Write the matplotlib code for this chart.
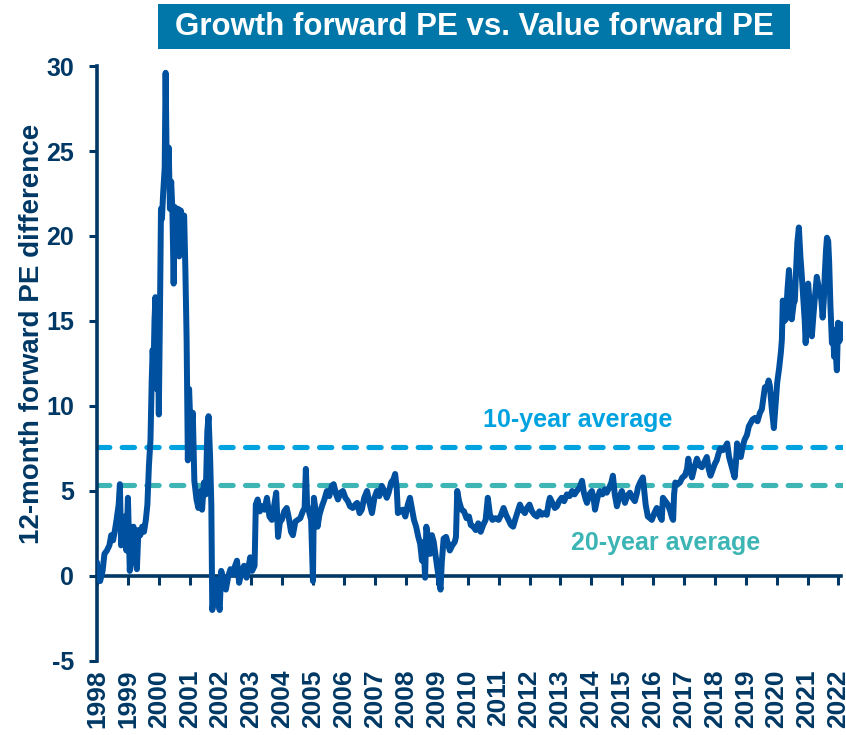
import matplotlib.pyplot as plt
from matplotlib.patches import Rectangle

# Growth forward PE minus Value forward PE (decimal year, value)
years = [
    1998.00, 1998.04, 1998.10, 1998.18, 1998.24, 1998.32, 1998.40, 1998.46, 1998.52, 1998.58,
    1998.64, 1998.70, 1998.74, 1998.78, 1998.84, 1998.90, 1998.95,
    1999.00, 1999.06, 1999.12, 1999.18, 1999.24, 1999.29, 1999.34, 1999.40, 1999.46, 1999.52,
    1999.58, 1999.63, 1999.68, 1999.73, 1999.77, 1999.80, 1999.83, 1999.86, 1999.89, 1999.93, 1999.96,
    2000.00, 2000.04, 2000.07, 2000.10, 2000.14, 2000.19, 2000.22, 2000.25, 2000.28, 2000.32,
    2000.36, 2000.40, 2000.44, 2000.48, 2000.52, 2000.57, 2000.62, 2000.66, 2000.71, 2000.76,
    2000.82, 2000.86, 2000.90, 2000.94, 2000.98,
    2001.03, 2001.10, 2001.15, 2001.22, 2001.28, 2001.34, 2001.40, 2001.46, 2001.52, 2001.57,
    2001.61, 2001.66, 2001.70, 2001.73, 2001.80, 2001.86, 2001.92, 2001.97,
    2002.02, 2002.10, 2002.17, 2002.25, 2002.32, 2002.40, 2002.47, 2002.53, 2002.60, 2002.68,
    2002.76, 2002.84, 2002.90, 2002.96,
    2003.02, 2003.10, 2003.14, 2003.20, 2003.27, 2003.34, 2003.42, 2003.50, 2003.58, 2003.66,
    2003.74, 2003.80, 2003.86, 2003.92, 2003.98,
    2004.06, 2004.14, 2004.20, 2004.28, 2004.34, 2004.42, 2004.50, 2004.58, 2004.66, 2004.72,
    2004.76, 2004.80, 2004.86, 2004.93, 2004.99,
    2005.02, 2005.08, 2005.14, 2005.20, 2005.28, 2005.36, 2005.44, 2005.52, 2005.60, 2005.66,
    2005.74, 2005.80, 2005.88, 2005.96,
    2006.04, 2006.12, 2006.19, 2006.28, 2006.36, 2006.42, 2006.50, 2006.57, 2006.65, 2006.74,
    2006.82, 2006.90, 2006.98,
    2007.06, 2007.14, 2007.22, 2007.30, 2007.38, 2007.44, 2007.52, 2007.60, 2007.65, 2007.70,
    2007.74, 2007.82, 2007.90, 2007.98,
    2008.06, 2008.13, 2008.20, 2008.26, 2008.33, 2008.40, 2008.46, 2008.52, 2008.57, 2008.62,
    2008.66, 2008.72, 2008.78, 2008.84, 2008.90, 2008.96,
    2009.02, 2009.08, 2009.12, 2009.16, 2009.22, 2009.30, 2009.36, 2009.42, 2009.50, 2009.58,
    2009.62, 2009.66, 2009.72, 2009.80, 2009.88, 2009.96,
    2010.04, 2010.10, 2010.18, 2010.26, 2010.34, 2010.42, 2010.50, 2010.58, 2010.65, 2010.72,
    2010.80, 2010.90,
    2011.00, 2011.08, 2011.16, 2011.24, 2011.32, 2011.40, 2011.47, 2011.55, 2011.62, 2011.69,
    2011.76, 2011.85, 2011.92,
    2012.00, 2012.08, 2012.16, 2012.24, 2012.32, 2012.40, 2012.48, 2012.56, 2012.62, 2012.66,
    2012.74, 2012.82, 2012.89, 2012.96,
    2013.04, 2013.12, 2013.21, 2013.30, 2013.38, 2013.46, 2013.53, 2013.62, 2013.70, 2013.76,
    2013.82, 2013.86, 2013.94,
    2014.02, 2014.08, 2014.12, 2014.20, 2014.28, 2014.36, 2014.44, 2014.50, 2014.58, 2014.65,
    2014.70, 2014.76, 2014.83, 2014.90, 2014.99,
    2015.05, 2015.09, 2015.16, 2015.25, 2015.33, 2015.41, 2015.48, 2015.51, 2015.58, 2015.67,
    2015.72, 2015.76, 2015.83, 2015.90, 2015.96,
    2016.04, 2016.12, 2016.20, 2016.28, 2016.32, 2016.40, 2016.48, 2016.56, 2016.62, 2016.65,
    2016.68, 2016.72, 2016.80, 2016.87, 2016.95,
    2017.03, 2017.10, 2017.14, 2017.20, 2017.26, 2017.34, 2017.42, 2017.50, 2017.58, 2017.66,
    2017.74, 2017.80, 2017.86, 2017.92,
    2018.00, 2018.06, 2018.12, 2018.18, 2018.26, 2018.34, 2018.40, 2018.46, 2018.52, 2018.58,
    2018.64, 2018.68, 2018.72, 2018.78, 2018.84, 2018.90, 2018.96,
    2019.04, 2019.10, 2019.16, 2019.22, 2019.30, 2019.38, 2019.46, 2019.52, 2019.58, 2019.62,
    2019.68, 2019.74, 2019.78, 2019.84, 2019.91, 2019.97,
    2020.02, 2020.08, 2020.14, 2020.17, 2020.20, 2020.25, 2020.30, 2020.35, 2020.40, 2020.45,
    2020.49, 2020.55, 2020.59, 2020.63, 2020.67, 2020.72, 2020.77, 2020.81, 2020.86, 2020.91,
    2020.94, 2020.98,
    2021.02, 2021.08, 2021.14, 2021.19, 2021.24, 2021.30, 2021.36, 2021.40, 2021.45, 2021.49,
    2021.53, 2021.56, 2021.60, 2021.63, 2021.67, 2021.70, 2021.74, 2021.79, 2021.83, 2021.86,
    2021.90, 2021.95, 2021.99,
    2022.03, 2022.07, 2022.10,
]
pe_diff = [
    0.8, -0.2, -0.3, 0.3, 1.3, 1.5, 1.8, 2.4, 2.1, 2.7,
    3.4, 4.2, 5.4, 1.8, 2.6, 3.5, 1.5,
    4.6, 0.3, 2.2, 2.9, 0.9, 0.4, 2.7, 2.4, 2.9, 2.6,
    3.3, 4.2, 6.5, 8.0, 11.5, 13.3, 12.2, 15.0, 16.4, 11.0, 15.5,
    9.5, 16.0, 21.6, 21.0, 22.5, 24.0, 29.6, 25.0, 23.0, 25.2,
    21.6, 23.2, 21.5, 17.2, 21.7, 20.0, 21.6, 18.8, 21.5, 21.0,
    21.2, 18.0, 13.9, 6.8, 11.0,
    8.5, 9.6, 5.6, 4.5, 4.0, 5.0, 3.9, 5.5, 4.8, 8.5,
    9.4, 7.0, 4.2, -2.0, -1.2, -0.2, -1.5, -2.0,
    0.3, -0.3, -0.8, 0.0, 0.4, 0.1, 0.6, 0.9, -0.4, 0.3,
    0.6, -0.1, 0.5, 1.1,
    0.3, 0.6, 4.2, 4.5, 3.8, 4.1, 3.9, 4.6, 3.5, 3.3,
    4.2, 4.9, 2.3, 3.2, 3.3,
    3.8, 4.0, 3.5, 2.6, 2.4, 3.2, 3.3, 3.4, 3.8, 4.0,
    6.3, 4.2, 3.8, 3.3, -0.3,
    4.6, 3.8, 2.9, 3.6, 4.1, 4.5, 5.0, 4.7, 5.3, 5.4,
    4.8, 4.5, 4.9, 5.0,
    4.6, 4.4, 4.1, 4.0, 4.2, 4.3, 3.7, 3.9, 4.6, 5.0,
    4.3, 3.7, 4.6,
    5.0, 4.7, 5.3, 5.0, 4.6, 4.9, 5.5, 5.7, 6.0, 5.2,
    3.7, 3.8, 3.9, 3.5,
    4.2, 4.6, 3.9, 3.3, 2.9, 2.3, 1.9, 0.9, 2.0, -0.1,
    2.9, 2.2, 1.3, 2.4, 2.0, 1.2,
    0.4, -0.3, -0.8, 0.8, 2.2, 2.3, 1.9, 1.5, 1.8, 2.0,
    2.3, 5.0, 4.4, 3.9, 3.8, 3.4,
    3.5, 3.0, 2.9, 2.7, 3.1, 2.6, 3.0, 3.3, 4.6, 3.6,
    3.3, 3.4,
    3.3, 3.6, 4.0, 3.6, 3.3, 3.0, 2.9, 3.4, 3.8, 4.2,
    3.9, 3.7, 4.0,
    4.2, 3.8, 3.6, 3.5, 3.8, 3.6, 3.7, 3.6, 4.3, 4.6,
    4.3, 4.0, 4.1, 4.4,
    4.6, 4.4, 4.8, 4.7, 5.0, 4.8, 5.0, 5.2, 5.6, 4.9,
    4.5, 4.3, 4.8,
    5.0, 4.5, 3.9, 4.6, 5.0, 4.8, 5.1, 4.9, 5.2, 5.5,
    5.9, 4.8, 4.1, 4.6, 5.0,
    4.6, 4.3, 4.7, 4.9, 4.6, 4.4, 4.9, 5.2, 5.5, 5.8,
    4.9, 4.2, 3.5, 3.4, 3.3,
    3.7, 4.0, 3.6, 3.3, 4.6, 4.4, 4.2, 3.8, 3.4, 3.3,
    4.8, 5.5, 5.4, 5.5, 5.8,
    5.9, 6.3, 6.9, 6.2, 5.8, 6.4, 6.9, 6.5, 6.4, 6.7,
    7.0, 6.3, 5.9, 6.2,
    6.6, 6.8, 7.2, 7.5, 7.4, 7.6, 7.8, 7.0, 6.6, 6.2,
    5.8, 6.6, 7.8, 7.2, 7.0, 7.6, 8.0,
    8.3, 8.8, 9.0, 9.2, 9.3, 9.1, 9.6, 9.8, 10.6, 11.1,
    11.0, 11.5, 11.2, 9.9, 8.7, 10.2,
    11.4, 12.2, 13.2, 13.9, 16.2, 15.0, 15.1, 16.8, 18.0, 16.5,
    15.1, 16.0, 16.2, 18.0, 19.6, 20.5, 18.8, 17.8, 16.4, 15.0,
    13.7, 15.5,
    17.2, 15.8, 14.1, 15.3, 16.4, 17.6, 17.0, 16.8, 16.2, 15.2,
    16.3, 17.8, 19.2, 19.9, 19.7, 18.5, 16.0, 13.7, 14.5, 12.9,
    13.5, 12.1, 14.9,
    13.8, 14.1, 14.8,
]

avg_10y = 7.6
avg_20y = 5.35
tick_years = list(range(1998, 2023))

navy = '#003865'
line_blue = '#0050A0'
light_blue = '#00A3E0'
teal = '#3DB5B5'
title_bg = '#0077A8'

plt.rcParams['font.family'] = ['Liberation Sans', 'DejaVu Sans']
plt.rcParams['font.weight'] = 'bold'
plt.rcParams['axes.unicode_minus'] = False

fig = plt.figure(figsize=(8.46, 7.35), dpi=100)
ax = fig.add_axes([0.1147, 0.1007, 0.8818, 0.8095])

ax.plot(years, pe_diff, color=line_blue, linewidth=4.3, solid_joinstyle='round',
        solid_capstyle='round', zorder=3)
ax.axhline(avg_10y, color=light_blue, linewidth=3.7, linestyle=(0, (2.4, 2.4)),
           dash_capstyle='round', zorder=2)
ax.axhline(avg_20y, color=teal, linewidth=3.7, linestyle=(0, (2.4, 2.4)),
           dash_capstyle='round', zorder=2)

ax.text(2010.5, 9.2, '10-year average', color=light_blue, fontsize=18,
        fontweight='bold', va='center', ha='left')
ax.text(2013.35, 1.95, '20-year average', color=teal, fontsize=18,
        fontweight='bold', va='center', ha='left')

ax.set_xlim(1998, 2022.15)
ax.set_ylim(-5, 30)
ax.set_yticks(range(-5, 31, 5))

for side in ['top', 'right']:
    ax.spines[side].set_visible(False)
ax.spines['left'].set_linewidth(2.6)
ax.spines['left'].set_color(navy)
ax.spines['bottom'].set_position(('data', 0))
ax.spines['bottom'].set_bounds(1998, 2022.08)
ax.spines['bottom'].set_linewidth(2.6)
ax.spines['bottom'].set_color(navy)

ax.set_xticks(tick_years)
ax.tick_params(axis='x', direction='out', length=6.5, width=2.2, color=navy,
               labelbottom=False)
ax.tick_params(axis='y', direction='out', length=5.5, width=2.2, color=navy,
               labelcolor=navy, labelsize=18, pad=11)

# year labels sit under the plot, not on the zero line
ax2 = ax.twiny()
ax2.set_xlim(ax.get_xlim())
ax2.xaxis.set_ticks_position('bottom')
ax2.set_xticks(tick_years)
ax2.set_xticklabels([str(y) for y in tick_years])
ax2.tick_params(axis='x', length=0, pad=6, labelsize=19, labelrotation=90,
                labelcolor=navy, labelbottom=True, labeltop=False)
for s in ax2.spines.values():
    s.set_visible(False)

ax.set_ylabel('12-month forward PE difference', fontsize=20, fontweight='bold',
              color=navy)
ax.yaxis.set_label_coords(-0.07, 0.55)

# title banner
fig.patches.append(Rectangle((158 / 846, 1 - 49 / 735), 632 / 846, 45 / 735,
                             transform=fig.transFigure, facecolor=title_bg,
                             edgecolor='none'))
fig.text(474 / 846, 1 - 27 / 735, 'Growth forward PE vs. Value forward PE',
         color='white', fontsize=22.5, fontweight='bold', ha='center', va='center')

fig.savefig('out.png', dpi=100)
